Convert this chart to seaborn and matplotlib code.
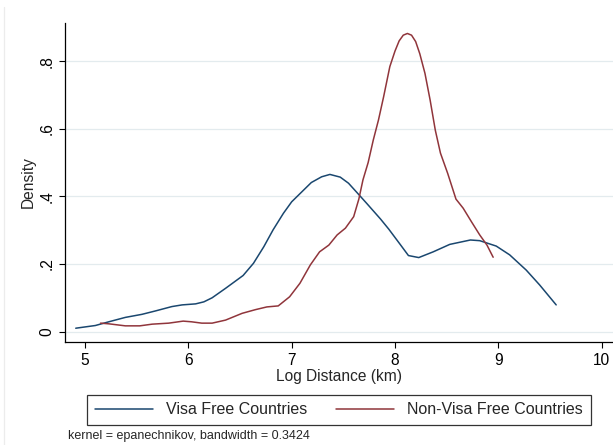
import matplotlib
matplotlib.use("Agg")
import matplotlib.pyplot as plt
from matplotlib.lines import Line2D
import numpy as np
import pandas as pd
import seaborn as sns

# Kernel density estimates of log distance, by visa regime
visa_x = [4.91, 5.10, 5.23, 5.39, 5.55, 5.68, 5.84, 5.94, 6.07, 6.15, 6.23, 6.36,
          6.53, 6.63, 6.73, 6.82, 6.92, 7.00, 7.10, 7.19, 7.29, 7.37, 7.47, 7.55,
          7.63, 7.73, 7.86, 7.94, 8.05, 8.13, 8.23, 8.37, 8.53, 8.73, 8.82, 8.98,
          9.11, 9.27, 9.40, 9.56]
visa_y = [0.010, 0.018, 0.029, 0.042, 0.051, 0.061, 0.074, 0.079, 0.082, 0.088,
          0.100, 0.128, 0.166, 0.202, 0.251, 0.301, 0.350, 0.384, 0.414, 0.441,
          0.458, 0.465, 0.457, 0.439, 0.412, 0.378, 0.333, 0.303, 0.258, 0.225,
          0.219, 0.236, 0.258, 0.271, 0.269, 0.253, 0.227, 0.182, 0.138, 0.079]

nonvisa_x = [5.15, 5.23, 5.39, 5.53, 5.65, 5.81, 5.95, 6.03, 6.13, 6.23, 6.36, 6.52,
             6.65, 6.76, 6.87, 6.98, 7.08, 7.18, 7.27, 7.36, 7.44, 7.52, 7.60, 7.65,
             7.69, 7.74, 7.79, 7.84, 7.89, 7.95, 8.00, 8.04, 8.08, 8.12, 8.16, 8.20,
             8.24, 8.29, 8.34, 8.39, 8.44, 8.51, 8.59, 8.66, 8.74, 8.82, 8.89, 8.95]
nonvisa_y = [0.025, 0.023, 0.017, 0.017, 0.022, 0.025, 0.031, 0.029, 0.025, 0.025,
             0.034, 0.054, 0.065, 0.073, 0.076, 0.103, 0.143, 0.197, 0.236, 0.256,
             0.286, 0.306, 0.340, 0.392, 0.449, 0.500, 0.567, 0.626, 0.695, 0.784,
             0.830, 0.860, 0.877, 0.882, 0.877, 0.858, 0.822, 0.764, 0.685, 0.596,
             0.528, 0.468, 0.392, 0.365, 0.325, 0.286, 0.256, 0.220]

groups = ["Visa Free Countries", "Non-Visa Free Countries"]
x_ticks = [5, 6, 7, 8, 9, 10]
y_ticks = [0, 0.2, 0.4, 0.6, 0.8]
y_tick_labels = ["0", ".2", ".4", ".6", ".8"]
note = "kernel = epanechnikov, bandwidth = 0.3424"

df = pd.concat([
    pd.DataFrame({"dist": visa_x, "density": visa_y, "group": groups[0]}),
    pd.DataFrame({"dist": nonvisa_x, "density": nonvisa_y, "group": groups[1]}),
], ignore_index=True)

sns.set_style("white")
plt.rcParams["font.family"] = ["Liberation Sans", "DejaVu Sans"]

W, H = 613, 445
fig = plt.figure(figsize=(W / 100, H / 100), dpi=100)
left, right, top, bottom = 65, 613, 23, 341.7
ax = fig.add_axes([left / W, 1 - bottom / H, (right - left) / W, (bottom - top) / H])

palette = {groups[0]: "#1a476f", groups[1]: "#90353b"}
sns.lineplot(data=df, x="dist", y="density", hue="group", palette=palette,
             estimator=None, sort=False, linewidth=1.1, legend=False, ax=ax)

ax.set_xlim(4.806, 10.11)
ax.set_ylim(-0.0299, 0.913)

ax.set_xticks(x_ticks)
ax.set_xticklabels([str(t) for t in x_ticks])
ax.set_yticks(y_ticks)
ax.set_yticklabels(y_tick_labels, rotation=90, va="center")
ax.tick_params(axis="both", direction="out", length=4.3, width=0.8,
               color="black", labelsize=11.2, pad=3.5, labelcolor="black")
ax.tick_params(axis="x", bottom=True)
ax.tick_params(axis="y", left=True)

ax.grid(axis="y", color="#e3ebee", linewidth=0.9)
ax.grid(axis="x", visible=False)
for side in ["top", "right"]:
    ax.spines[side].set_visible(False)
for side in ["left", "bottom"]:
    ax.spines[side].set_color("black")
    ax.spines[side].set_linewidth(0.9)

ax.set_xlabel("Log Distance (km)", fontsize=11.2)
ax.set_ylabel("Density", fontsize=11.2)
ax.xaxis.label.set_va("center")
ax.yaxis.label.set_va("center")
ax.xaxis.set_label_coords(0.5, (bottom - 376.5) / (bottom - top))
ax.yaxis.set_label_coords((28.5 - left) / (right - left), 0.5)

handles = [Line2D([], [], color=palette[g], linewidth=1.1) for g in groups]
leg = fig.legend(handles, groups, loc="center", ncol=2,
                 bbox_to_anchor=((92 + 586) / 2 / W, 1 - 410 / H),
                 fontsize=11.5, frameon=True, fancybox=False, shadow=False,
                 handlelength=3.6, handletextpad=0.85, columnspacing=1.8,
                 borderpad=0.5)
leg.get_frame().set_edgecolor("black")
leg.get_frame().set_linewidth(0.9)
leg.get_frame().set_facecolor("white")

fig.text(68 / W, 1 - 436 / H, note, fontsize=9, ha="left", va="center")

# faint outer frame of the graph region
fig.add_artist(Line2D([3.5 / W, 3.5 / W], [0, 1 - 7 / H], color="#ececec",
                      linewidth=0.9, transform=fig.transFigure))

fig.savefig("out.png", dpi=100)
